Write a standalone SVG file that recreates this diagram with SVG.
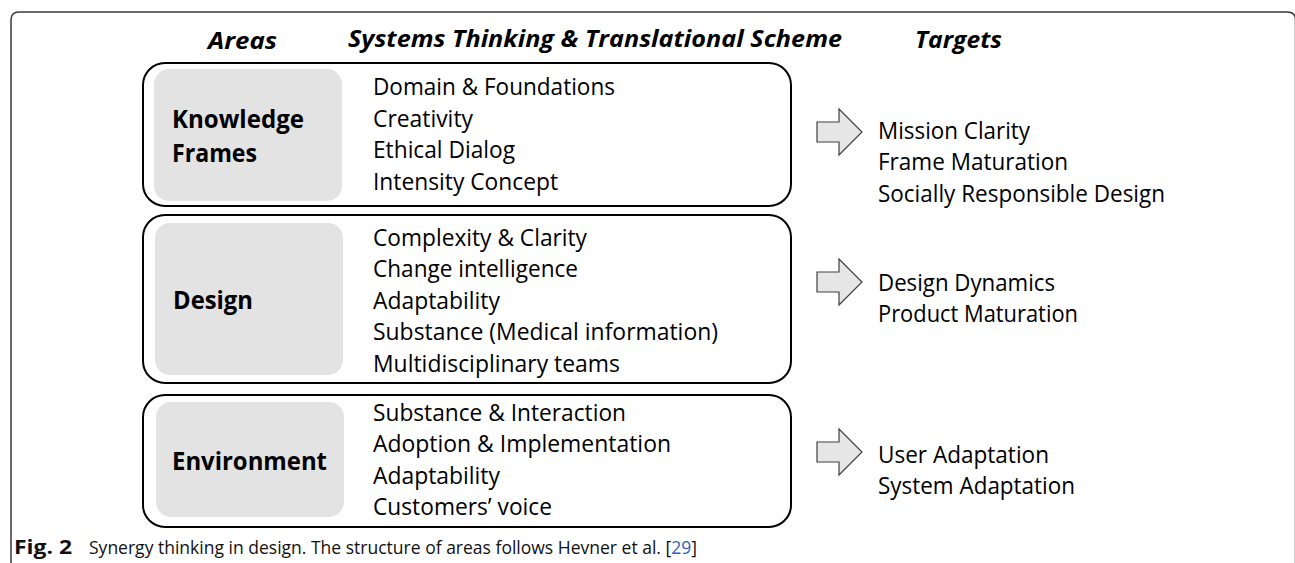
<svg xmlns="http://www.w3.org/2000/svg" width="1295" height="563" viewBox="0 0 1295 563">
<style>
.box{fill:#ffffff;stroke:#000000;stroke-width:2}
.area{fill:#e3e3e3;stroke:none}
.t{font-family:"Open Sans","Noto Sans",sans-serif;font-size:23px;fill:#000}
.b{font-family:"Open Sans","Noto Sans",sans-serif;font-size:25.5px;font-weight:bold;fill:#000}
.h{font-family:"Open Sans","Noto Sans",sans-serif;font-size:23.5px;font-weight:bold;font-style:italic;fill:#000}
.cap{font-family:"Open Sans","Noto Sans",sans-serif;font-size:19px;fill:#111}
.ref{fill:#2f5fc4}
.arrow{fill:#e6e6e6;stroke:#404040;stroke-width:1.2}
</style>
<rect width="1295" height="563" fill="#ffffff"/>
<path d="M11,563 V20 Q11,12 19,12 H1287 Q1295.5,12 1295.5,20 V563" fill="none" stroke="#3a3a3a" stroke-width="1.5"/>

<g id="headers">
<text class="h" x="208" y="49" textLength="69" lengthAdjust="spacingAndGlyphs">Areas</text>
<text class="h" x="348" y="47" textLength="494" lengthAdjust="spacingAndGlyphs">Systems Thinking &amp; Translational Scheme</text>
<text class="h" x="915" y="48" textLength="87" lengthAdjust="spacingAndGlyphs">Targets</text>
</g>

<g id="knowledge">
<rect class="box" x="143" y="63" width="648" height="143" rx="22"/>
<rect class="area" x="154" y="69" width="188" height="132" rx="15"/>
<text class="b" x="172" y="128" textLength="132" lengthAdjust="spacingAndGlyphs">Knowledge</text>
<text class="b" x="172" y="162" textLength="85" lengthAdjust="spacingAndGlyphs">Frames</text>
<text class="t" x="373" y="95" textLength="242" lengthAdjust="spacingAndGlyphs">Domain &amp; Foundations</text>
<text class="t" x="373" y="126.5" textLength="100" lengthAdjust="spacingAndGlyphs">Creativity</text>
<text class="t" x="373" y="158" textLength="142" lengthAdjust="spacingAndGlyphs">Ethical Dialog</text>
<text class="t" x="373" y="189.5" textLength="185" lengthAdjust="spacingAndGlyphs">Intensity Concept</text>
</g>

<g id="design">
<rect class="box" x="143" y="215" width="648" height="168" rx="22"/>
<rect class="area" x="155" y="223" width="188" height="152" rx="15"/>
<text class="b" x="173" y="309" textLength="80" lengthAdjust="spacingAndGlyphs">Design</text>
<text class="t" x="373" y="245.5" textLength="214" lengthAdjust="spacingAndGlyphs">Complexity &amp; Clarity</text>
<text class="t" x="373" y="277" textLength="205" lengthAdjust="spacingAndGlyphs">Change intelligence</text>
<text class="t" x="373" y="308.5" textLength="127" lengthAdjust="spacingAndGlyphs">Adaptability</text>
<text class="t" x="373" y="340" textLength="345" lengthAdjust="spacingAndGlyphs">Substance (Medical information)</text>
<text class="t" x="373" y="371.5" textLength="247" lengthAdjust="spacingAndGlyphs">Multidisciplinary teams</text>
</g>

<g id="environment">
<rect class="box" x="143" y="395" width="648" height="132" rx="22"/>
<rect class="area" x="156" y="402" width="188" height="115" rx="15"/>
<text class="b" x="172" y="470" textLength="155" lengthAdjust="spacingAndGlyphs">Environment</text>
<text class="t" x="373" y="421" textLength="253" lengthAdjust="spacingAndGlyphs">Substance &amp; Interaction</text>
<text class="t" x="373" y="452" textLength="298" lengthAdjust="spacingAndGlyphs">Adoption &amp; Implementation</text>
<text class="t" x="373" y="483.5" textLength="127" lengthAdjust="spacingAndGlyphs">Adaptability</text>
<text class="t" x="373" y="515" textLength="179" lengthAdjust="spacingAndGlyphs">Customers’ voice</text>
</g>

<g id="connectors">
<path class="arrow" d="M817,122 H839 V109 L862,132 L839,155 V142 H817 Z"/>
<path class="arrow" d="M817,272 H839 V259 L862,282 L839,305 V292 H817 Z"/>
<path class="arrow" d="M817,442 H839 V429 L862,452 L839,475 V462 H817 Z"/>
</g>

<g id="targets-knowledge">
<text class="t" x="878" y="138.5" textLength="152" lengthAdjust="spacingAndGlyphs">Mission Clarity</text>
<text class="t" x="878" y="170" textLength="190" lengthAdjust="spacingAndGlyphs">Frame Maturation</text>
<text class="t" x="878" y="201.5" textLength="287" lengthAdjust="spacingAndGlyphs">Socially Responsible Design</text>
</g>
<g id="targets-design">
<text class="t" x="878" y="290.5" textLength="177" lengthAdjust="spacingAndGlyphs">Design Dynamics</text>
<text class="t" x="878" y="322" textLength="200" lengthAdjust="spacingAndGlyphs">Product Maturation</text>
</g>
<g id="targets-environment">
<text class="t" x="878" y="462.5" textLength="171" lengthAdjust="spacingAndGlyphs">User Adaptation</text>
<text class="t" x="878" y="494" textLength="197" lengthAdjust="spacingAndGlyphs">System Adaptation</text>
</g>

<g id="caption">
<text class="cap" x="14" y="554" font-weight="bold" textLength="58" lengthAdjust="spacingAndGlyphs">Fig. 2</text>
<text class="cap" x="89" y="554" textLength="608" lengthAdjust="spacingAndGlyphs">Synergy thinking in design. The structure of areas follows Hevner et al. [<tspan class="ref">29</tspan>]</text>
</g>
</svg>
